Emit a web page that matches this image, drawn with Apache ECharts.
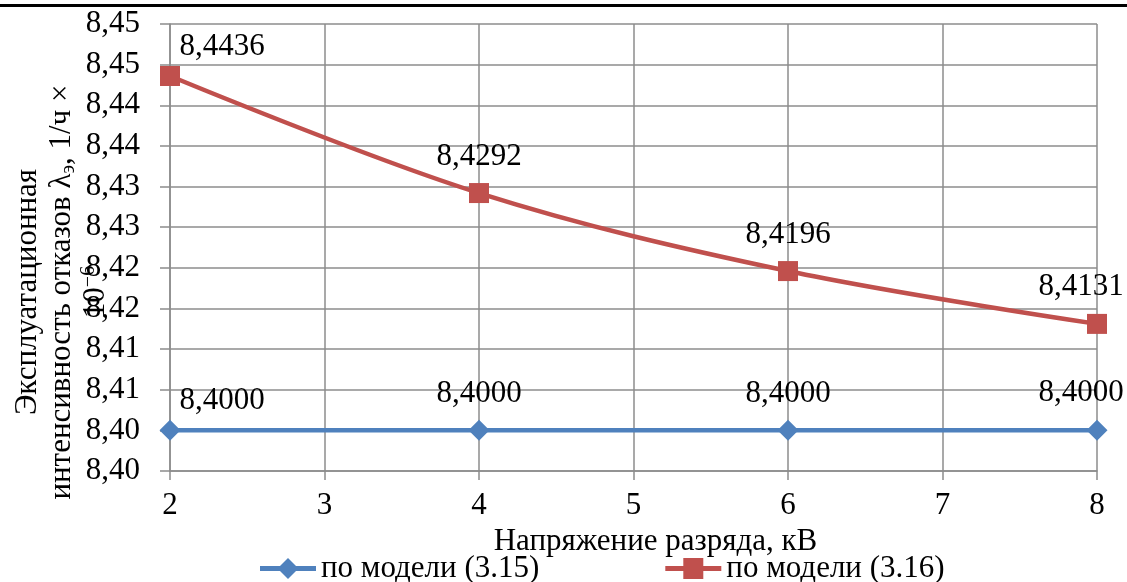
<!DOCTYPE html>
<html>
<head>
<meta charset="utf-8">
<script src="https://cdn.jsdelivr.net/npm/echarts@6/dist/echarts.min.js"></script>
<style>
  html, body { margin: 0; padding: 0; background: #fff; }
  #chart { width: 1127px; height: 582px; }
</style>
</head>
<body>
<div id="chart"></div>
<script>
// Discharge voltage, kV
const voltages = [2, 4, 6, 8];
// Operational failure rate, model (3.15)
const model315 = [8.4000, 8.4000, 8.4000, 8.4000];
// Operational failure rate, model (3.16)
const model316 = [8.4436, 8.4292, 8.4196, 8.4131];
const seriesNames = ['по модели (3.15)', 'по модели (3.16)'];
// Y tick labels as printed (two decimals, comma separator)
const yTickLabels = ['8,40', '8,40', '8,41', '8,41', '8,42', '8,42',
                     '8,43', '8,43', '8,44', '8,44', '8,45', '8,45'];
const xTickLabels = ['2', '3', '4', '5', '6', '7', '8'];

const Y_MIN = 8.395, Y_MAX = 8.45, Y_STEP = 0.005;
const FONT = "'Liberation Serif', 'Times New Roman', serif";
const GRID = '#8c8c8c';
const BLUE = '#4F81BD';
const RED = '#C0504D';

// Legend icons: a thick line segment with the series marker in its middle
const ICON_DIAMOND = 'path://M0,8 L20,8 L28,0 L36,8 L56,8 L56,13 L36,13 L28,21 L20,13 L0,13 Z';
const ICON_SQUARE = 'path://M0,8 L18,8 L18,0 L38,0 L38,8 L56,8 L56,13 L38,13 L38,21 L18,21 L18,13 L0,13 Z';

const fmt4 = v => v.toFixed(4).replace('.', ',');

// Edge labels are nudged inward so they stay inside the plot
function labelOffset(i, n) {
  if (i === 0) return [52, 7];
  if (i === n - 1) return [-16, -1];
  return [0, 0];
}

function pairs(xs, ys) {
  return xs.map((x, i) => ({
    value: [x, ys[i]],
    label: { offset: labelOffset(i, xs.length) }
  }));
}

const chart = echarts.init(document.getElementById('chart'), null, { renderer: 'canvas' });

chart.setOption({
  animation: false,
  backgroundColor: '#fff',
  textStyle: { fontFamily: FONT },
  grid: { left: 170, right: 30, top: 24, bottom: 111, containLabel: false },
  xAxis: {
    type: 'value',
    min: 2, max: 8, interval: 1,
    name: 'Напряжение разряда, кВ',
    nameLocation: 'middle',
    nameGap: 41,
    nameTextStyle: { fontSize: 31, color: '#000', fontFamily: FONT, padding: [0, 0, 0, 44] },
    axisLine: { show: true, lineStyle: { color: GRID, width: 1.5 } },
    axisTick: { show: true, length: 9, lineStyle: { color: GRID, width: 1.5 } },
    splitLine: { show: true, lineStyle: { color: GRID, width: 1.5 } },
    axisLabel: {
      fontSize: 31, color: '#000', fontFamily: FONT, margin: 19,
      formatter: v => xTickLabels[Math.round(v - 2)]
    }
  },
  yAxis: {
    type: 'value',
    min: Y_MIN, max: Y_MAX, interval: Y_STEP,
    axisLine: { show: true, lineStyle: { color: GRID, width: 1.5 } },
    axisTick: { show: true, length: 10, lineStyle: { color: GRID, width: 1.5 } },
    splitLine: { show: true, lineStyle: { color: GRID, width: 1.5 } },
    axisLabel: {
      fontSize: 31, color: '#000', fontFamily: FONT, margin: 30,
      formatter: v => yTickLabels[Math.round((v - Y_MIN) / Y_STEP)]
    }
  },
  legend: {
    data: [
      { name: seriesNames[0], icon: ICON_DIAMOND },
      { name: seriesNames[1], icon: ICON_SQUARE }
    ],
    left: 255, top: 548,
    itemWidth: 56, itemHeight: 21, itemGap: 126,
    textStyle: { fontSize: 31, color: '#000', fontFamily: FONT }
  },
  series: [
    {
      name: seriesNames[0],
      type: 'line',
      data: pairs(voltages, model315),
      symbol: 'diamond',
      symbolSize: 21,
      lineStyle: { color: BLUE, width: 4.5 },
      itemStyle: { color: BLUE },
      label: {
        show: true, position: 'top', distance: 11,
        fontSize: 31, color: '#000', fontFamily: FONT,
        formatter: p => fmt4(p.value[1])
      },
      z: 3
    },
    {
      name: seriesNames[1],
      type: 'line',
      data: pairs(voltages, model316),
      smooth: 0.35,
      symbol: 'rect',
      symbolSize: 20,
      lineStyle: { color: RED, width: 4.5 },
      itemStyle: { color: RED },
      label: {
        show: true, position: 'top', distance: 11,
        fontSize: 31, color: '#000', fontFamily: FONT,
        formatter: p => fmt4(p.value[1])
      },
      z: 4
    }
  ],
  graphic: [
    {
      type: 'rect',
      shape: { x: 0, y: 4, width: 1127, height: 3 },
      style: { fill: '#000' },
      silent: true
    },
    {
      type: 'text',
      x: 62, y: 292,
      rotation: Math.PI / 2,
      silent: true,
      style: {
        text: '{a|Эксплуатационная}\n{a|интенсивность отказов λ}{s|э}{a|, 1/ч ×}\n{a|10}{p|−6}',
        align: 'center',
        verticalAlign: 'middle',
        fill: '#000',
        rich: {
          a: { fontSize: 31, fontFamily: FONT, lineHeight: 34, fill: '#000' },
          s: { fontSize: 20, fontFamily: FONT, lineHeight: 18, verticalAlign: 'bottom', fill: '#000' },
          p: { fontSize: 20, fontFamily: FONT, lineHeight: 18, verticalAlign: 'top', fill: '#000' }
        }
      }
    }
  ]
});
</script>
</body>
</html>
